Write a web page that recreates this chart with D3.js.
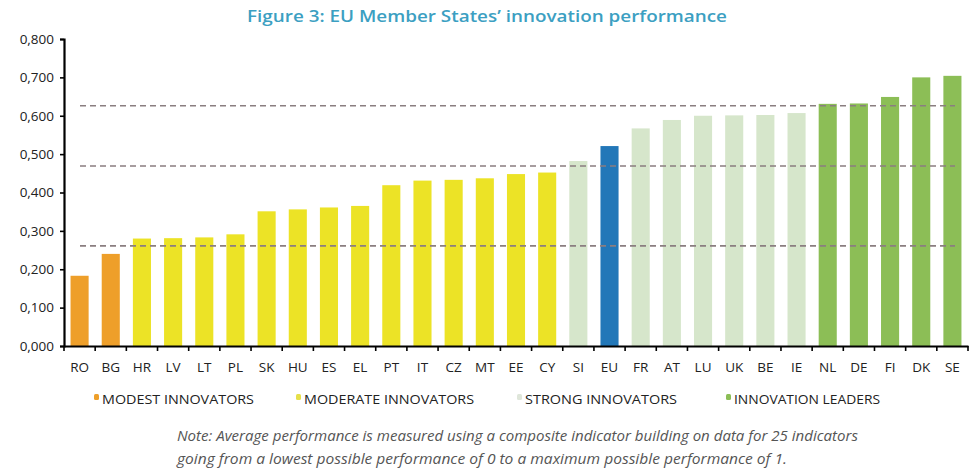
<!DOCTYPE html>
<html>
<head>
<meta charset="utf-8">
<script src="https://cdn.jsdelivr.net/npm/d3@7"></script>
<style>
html,body{margin:0;padding:0;background:#fff;}
svg{display:block;}
</style>
</head>
<body>
<svg id="chart" width="978" height="476"></svg>
<script>
const categories = ["RO","BG","HR","LV","LT","PL","SK","HU","ES","EL","PT","IT","CZ","MT","EE","CY","SI","EU","FR","AT","LU","UK","BE","IE","NL","DE","FI","DK","SE"];
const values = [0.183,0.240,0.280,0.281,0.283,0.291,0.351,0.356,0.361,0.365,0.419,0.431,0.433,0.437,0.448,0.452,0.482,0.521,0.567,0.589,0.600,0.601,0.602,0.607,0.631,0.632,0.649,0.700,0.704];
const groups = ["modest","modest","moderate","moderate","moderate","moderate","moderate","moderate","moderate","moderate","moderate","moderate","moderate","moderate","moderate","moderate","strong","eu","strong","strong","strong","strong","strong","strong","leader","leader","leader","leader","leader"];
const thresholds = [0.261, 0.469, 0.626];
const yTicks = [0,0.1,0.2,0.3,0.4,0.5,0.6,0.7,0.8];
const legendLabels = ["MODEST INNOVATORS","MODERATE INNOVATORS","STRONG INNOVATORS","INNOVATION LEADERS"];
const legendGroups = ["modest","moderate","strong","leader"];
const titleText = "Figure 3: EU Member States’ innovation performance";
const noteLines = ["Note: Average performance is measured using a composite indicator building on data for 25 indicators",
                   "going from a lowest possible performance of 0 to a maximum possible performance of 1."];

const colors = {modest:"#ee9f2a", moderate:"#ece326", strong:"#d6e6cb", eu:"#2277b8", leader:"#8cbe56"};
const legendColors = {modest:"#ee9f2a", moderate:"#e6e04a", strong:"#dfe6da", leader:"#8cbe56"};

const svg = d3.select("#chart");

const x = d3.scaleBand().domain(categories).range([64, 968]).paddingInner(0.42).paddingOuter(0.21);
const y = d3.scaleLinear().domain([0, 0.8]).range([346, 39]);

// title
svg.append("text").attr("x", 487).attr("y", 22).attr("text-anchor","middle")
  .attr("font-family","'Open Sans', sans-serif").attr("font-size",17).attr("font-weight",600)
  .attr("fill","#3c9fc2").attr("textLength",480).attr("lengthAdjust","spacingAndGlyphs")
  .text(titleText);

// bars
svg.append("g").selectAll("rect").data(categories).join("rect")
  .attr("x", d => x(d))
  .attr("width", x.bandwidth())
  .attr("y", (d,i) => y(values[i]))
  .attr("height", (d,i) => y(0) - y(values[i]))
  .attr("fill", (d,i) => colors[groups[i]]);

// threshold lines
svg.append("g").selectAll("line").data(thresholds).join("line")
  .attr("x1", 80).attr("x2", 955)
  .attr("y1", d => y(d)).attr("y2", d => y(d))
  .attr("stroke","#8a7e80").attr("stroke-width",1.6).attr("stroke-dasharray","6,4");

// y axis
const yAxis = svg.append("g").attr("transform","translate(64,0)")
  .call(d3.axisLeft(y).tickValues(yTicks).tickSize(4).tickPadding(6)
    .tickFormat(d => d3.format(".3f")(d).replace(".", ",")));
yAxis.select(".domain").attr("stroke","#000").attr("stroke-width",2.2);
yAxis.selectAll(".tick line").attr("stroke","#000").attr("stroke-width",1.6);
yAxis.selectAll("text").attr("font-family","'Open Sans', sans-serif").attr("font-size",13.5).attr("fill","#222");

// x axis
const xAxis = svg.append("g").attr("transform","translate(0,346)")
  .call(d3.axisBottom(x).tickSize(0).tickPadding(16));
xAxis.select(".domain").attr("stroke","#000").attr("stroke-width",2.2);
xAxis.selectAll("text").attr("font-family","'Open Sans', sans-serif").attr("font-size",13.5).attr("fill","#222");
const bounds = categories.map(c => x(c) - x.step()*x.paddingInner()/2).concat([968]);
xAxis.append("g").selectAll("line").data(bounds).join("line")
  .attr("x1", d => d).attr("x2", d => d).attr("y1", 0).attr("y2", 5)
  .attr("stroke","#000").attr("stroke-width",1.6);

// legend
const legendX = [94, 296, 517, 726];
const legendW = [152, 170, 152, 146];
const lg = svg.append("g").selectAll("g").data(legendLabels).join("g")
  .attr("transform", (d,i) => `translate(${legendX[i]},399)`);
lg.append("rect").attr("x",0).attr("y",-5).attr("width",5).attr("height",6).attr("rx",1.5)
  .attr("fill", (d,i) => legendColors[legendGroups[i]]);
lg.append("text").attr("x",8).attr("y",5)
  .attr("font-family","'Open Sans', sans-serif").attr("font-size",13.5).attr("fill","#222")
  .attr("textLength",(d,i)=>legendW[i]).attr("lengthAdjust","spacingAndGlyphs")
  .text(d => d);

// note
svg.append("g").selectAll("text").data(noteLines).join("text")
  .attr("x",177).attr("y",(d,i)=>441+i*23)
  .attr("font-family","'Open Sans', sans-serif").attr("font-size",14).attr("font-style","italic")
  .attr("fill","#555").attr("textLength",(d,i)=> i===0 ? 681 : 610).attr("lengthAdjust","spacingAndGlyphs")
  .text(d => d);
</script>
</body>
</html>
